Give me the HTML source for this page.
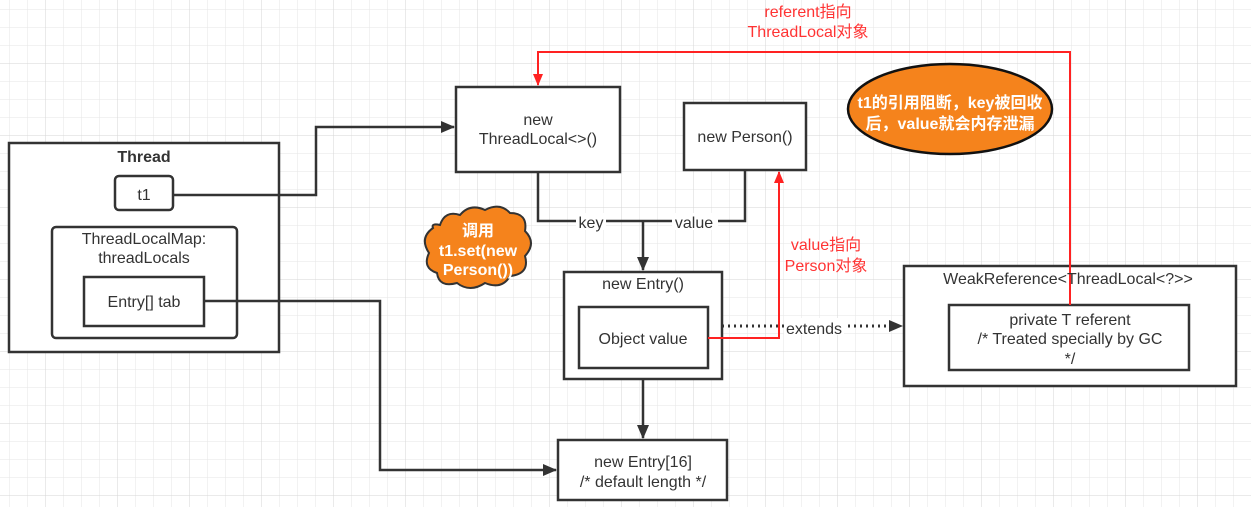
<!DOCTYPE html>
<html><head><meta charset="utf-8"><style>
html,body{margin:0;padding:0;background:#fff}
svg{display:block}
text{font-family:"Liberation Sans","Noto Sans CJK SC",sans-serif;fill:#333;font-size:16px}
</style></head><body>
<svg width="1251" height="507" viewBox="0 0 1251 507" xmlns="http://www.w3.org/2000/svg">
<defs>
<pattern id="g" x="9" y="9" width="18" height="18" patternUnits="userSpaceOnUse"><path d="M0 0H18M0 0V18" stroke="#e6e6e6" stroke-width="1" fill="none"/></pattern>
<pattern id="G" x="45" y="63" width="72" height="72" patternUnits="userSpaceOnUse"><path d="M0 0H72M0 0V72" stroke="#d6d6d6" stroke-width="1" fill="none"/></pattern>
<marker id="a" markerWidth="14" markerHeight="14" refX="13" refY="6" orient="auto" markerUnits="userSpaceOnUse"><path d="M0 0L14 6L0 12z" fill="#333"/></marker>
<marker id="r" markerWidth="12" markerHeight="12" refX="11" refY="5" orient="auto" markerUnits="userSpaceOnUse"><path d="M0 0L12 5L0 10z" fill="#f22"/></marker>
</defs>
<rect width="1251" height="507" fill="url(#g)"/>
<rect width="1251" height="507" fill="url(#G)"/>
<g fill="#fff" stroke="#333" stroke-width="2.5">
<rect x="9" y="143" width="270" height="209"/>
<rect x="115" y="176" width="58" height="34" rx="4"/>
<rect x="52" y="227" width="185" height="111" rx="4"/>
<rect x="84" y="277" width="120" height="49"/>
<rect x="456" y="87" width="164" height="85"/>
<rect x="684" y="103" width="122" height="67"/>
<rect x="564" y="272" width="158" height="107"/>
<rect x="579" y="307" width="129" height="61"/>
<rect x="904" y="266" width="332" height="120"/>
<rect x="949" y="305" width="240" height="65"/>
<rect x="558" y="440" width="169" height="60"/>
</g>
<g fill="none" stroke="#333" stroke-width="2.5">
<path d="M173 195H316V127H454" marker-end="url(#a)"/>
<path d="M538 172V221H745V170"/>
<path d="M643 221V270" marker-end="url(#a)"/>
<path d="M204 301H380V470H556" marker-end="url(#a)"/>
<path d="M643 379V438" marker-end="url(#a)"/>
<path d="M722 326H902" stroke-dasharray="2 4" stroke-width="3" marker-end="url(#a)"/>
</g>
<g fill="none" stroke="#f22" stroke-width="2">
<path d="M708 338H779V172" marker-end="url(#r)"/>
<path d="M1070 305V52H538V85" marker-end="url(#r)"/>
</g>
<rect x="576" y="213" width="30" height="17" fill="#fff"/>
<rect x="672" y="213" width="46" height="17" fill="#fff"/>
<rect x="784" y="318" width="60" height="17" fill="#fff"/>
<ellipse cx="950" cy="109" rx="102" ry="45" fill="#f5831c" stroke="#111" stroke-width="2.5"/>
<path d="M440 225 q5 -15 20 -10 q10 -12 25 -5 q15 -8 25 3 q18 0 15 18 q12 12 0 25 q5 18 -15 20 q-8 14 -25 7 q-15 10 -28 0 q-18 5 -20 -10 q-15 -5 -8 -20 q-10 -15 4 -25 q-2 -5 7 -3z" fill="#f5831c" stroke="#333" stroke-width="2"/>
<g text-anchor="middle">
<text x="144" y="162" font-weight="bold" font-size="19">Thread</text>
<text x="144" y="200">t1</text>
<text x="144" y="244">ThreadLocalMap:</text>
<text x="144" y="263">threadLocals</text>
<text x="144" y="307">Entry[] tab</text>
<text x="538" y="125">new</text>
<text x="538" y="144">ThreadLocal&lt;&gt;()</text>
<text x="745" y="142">new Person()</text>
<text x="591" y="228">key</text>
<text x="694" y="228">value</text>
<text x="643" y="289">new Entry()</text>
<text x="643" y="344">Object value</text>
<text x="814" y="334">extends</text>
<text x="1068" y="284" font-size="18">WeakReference&lt;ThreadLocal&lt;?&gt;&gt;</text>
<text x="1070" y="325">private T referent</text>
<text x="1070" y="344">/* Treated specially by GC</text>
<text x="1070" y="364">*/</text>
<text x="643" y="467">new Entry[16]</text>
<text x="643" y="487">/* default length */</text>
<text x="826" y="250" style="fill:#f33">value指向</text>
<text x="826" y="271" style="fill:#f33">Person对象</text>
<text x="808" y="17" style="fill:#f33">referent指向</text>
<text x="808" y="37" style="fill:#f33">ThreadLocal对象</text>
<text x="950" y="108" style="fill:#fff;font-weight:bold">t1的引用阻断，key被回收</text>
<text x="950" y="129" style="fill:#fff;font-weight:bold">后，value就会内存泄漏</text>
<text x="478" y="236" style="fill:#fff;font-weight:bold" font-size="14">调用</text>
<text x="478" y="256" style="fill:#fff;font-weight:bold">t1.set(new</text>
<text x="478" y="275" style="fill:#fff;font-weight:bold">Person())</text>
</g>
</svg>
</body></html>
